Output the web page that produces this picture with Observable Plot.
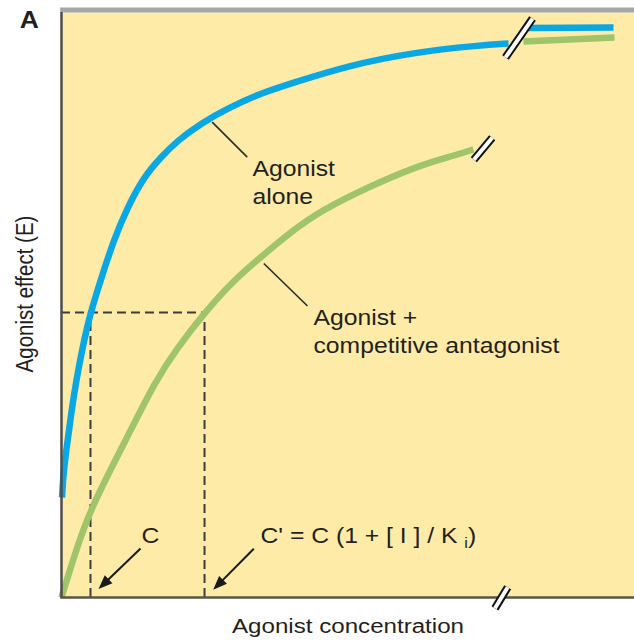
<!DOCTYPE html>
<html>
<head>
<meta charset="utf-8">
<script src="https://cdn.jsdelivr.net/npm/d3@7"></script>
<script src="https://cdn.jsdelivr.net/npm/@observablehq/plot@0.6"></script>
<style>html,body{margin:0;padding:0;background:#fff;}</style>
</head>
<body>
<div id="chart"></div>
<script>
// ---- Data (arbitrary concentration units 0–100, effect % of frame) ----
const blueConc   = [0.09, 0.35, 0.96, 1.66, 2.57, 3.75, 5.06, 6.81, 9.08, 11.52, 14.31, 17.28, 20.24, 24.26, 28.97, 34.73, 40.49, 49.91, 61.43, 73.12, 78.01];
const blueEffect = [17.1, 21.4, 26.0, 31.3, 37.1, 43.1, 48.7, 54.2, 61.0, 66.7, 71.8, 75.2, 78.1, 81.0, 83.6, 86.2, 88.0, 90.9, 93.2, 94.4, 94.7];
const blueConcHigh   = [81.33, 96.34];
const blueEffectHigh = [97.35, 97.44];

const greenConc   = [0, 2.44, 5.06, 11.17, 16.41, 20.24, 24.96, 30.02, 35.25, 41.71, 46.95, 55.67, 62.65, 67.37, 71.90];
const greenEffect = [0, 7.8, 15.2, 26.8, 37.1, 42.7, 48.7, 54.2, 58.6, 63.8, 67.0, 71.1, 73.9, 75.2, 76.6];
const greenConcHigh   = [80.63, 96.51];
const greenEffectHigh = [95.04, 95.73];

const concC = 5.06;       // C
const concCprime = 24.96; // C'
const effectLevel = 48.7; // matched effect

const breakMarks = [
  {x1: 77.49, y1: 92.31, x2: 82.20, y2: 98.97},
  {x1: 71.96, y1: 74.82, x2: 75.17, y2: 78.58},
  {x1: 75.65, y1: -1.85, x2: 77.87, y2: 1.76}
];
const leaders = [
  {x1: 26.30, y1: 81.25, x2: 32.41, y2: 75.27},
  {x1: 35.31, y1: 57.09, x2: 42.93, y2: 49.83}
];
const arrows = [
  {x1: 13.79, y1: 8.38, x2: 6.46, y2: 1.45},
  {x1: 33.56, y1: 8.32, x2: 26.47, y2: 1.32}
];
const curveLabels = [
  {x: 33.33, y: 67.35, text: "Agonist\nalone"},
  {x: 43.98, y: 41.88, text: "Agonist +\ncompetitive antagonist"},
  {x: 34.73, y: 9.40, text: "C' = C (1 + [ I ] / K i)"}
];
const centredLabels = [
  {x: 15.53, y: 9.40, text: "C"}
];
const xTitle = "Agonist concentration";
const yTitle = "Agonist effect (E)";
const panelLabel = "A";

// ---- Layout ----
const W = 634, H = 641, ML = 61, MR = 0, MT = 12, MB = 44;
const xDomain = [0, 100], yDomain = [0, 100];
const kx = (W - ML - MR) / (xDomain[1] - xDomain[0]);
const ky = (H - MT - MB) / (yDomain[1] - yDomain[0]);

const yellow = "#fdeba7", blue = "#09a7e4", green = "#9fc46a", ink = "#231f20";

const blueRows = blueConc.map((x, i) => ({x, y: blueEffect[i], seg: "a"}))
  .concat(blueConcHigh.map((x, i) => ({x, y: blueEffectHigh[i], seg: "b"})));
const greenRows = greenConc.map((x, i) => ({x, y: greenEffect[i], seg: "a"}))
  .concat(greenConcHigh.map((x, i) => ({x, y: greenEffectHigh[i], seg: "b"})));

// arrow shafts and heads
const shafts = [], heads = [];
for (const a of arrows) {
  const dxp = (a.x2 - a.x1) * kx, dyp = -(a.y2 - a.y1) * ky;
  const len = Math.hypot(dxp, dyp);
  const ux = dxp / len, uy = dyp / len;
  const back = 9;
  shafts.push({x1: a.x1, y1: a.y1, x2: a.x2 - ux * back / kx, y2: a.y2 + uy * back / ky});
  heads.push({x: a.x2, y: a.y2, angle: Math.atan2(dxp, -dyp) * 180 / Math.PI});
}
const headSymbol = {draw(ctx) { ctx.moveTo(0, 0); ctx.lineTo(-5.5, 14); ctx.lineTo(5.5, 14); ctx.closePath(); }};

const svg = Plot.plot({
  width: W, height: H,
  marginLeft: ML, marginRight: MR, marginTop: MT, marginBottom: MB,
  x: {domain: xDomain, axis: null},
  y: {domain: yDomain, axis: null},
  style: {fontFamily: "'Liberation Sans', Arial, Helvetica, sans-serif", fontSize: "21px", background: "#fff", overflow: "visible"},
  marks: [
    Plot.frame({fill: yellow, stroke: null}),
    Plot.ruleY([effectLevel], {x1: 0, x2: concCprime, stroke: "#3d3d3d", strokeWidth: 2, strokeDasharray: "9,5"}),
    Plot.ruleX([concC, concCprime], {y1: 0, y2: effectLevel, stroke: "#3d3d3d", strokeWidth: 2, strokeDasharray: "9,5"}),
    Plot.line(greenRows, {x: "x", y: "y", z: "seg", stroke: green, strokeWidth: 6.5, curve: "basis", strokeLinecap: "butt"}),
    Plot.line(blueRows, {x: "x", y: "y", z: "seg", stroke: blue, strokeWidth: 6.5, curve: "basis", strokeLinecap: "butt"}),
    Plot.ruleY([yDomain[1]], {x1: -0.15, x2: xDomain[1], stroke: "#a6a6a6", strokeWidth: 5, dy: -2.5}),
    Plot.ruleX([0], {y1: 0, y2: yDomain[1], stroke: "#4d4d4d", strokeWidth: 2.5}),
    Plot.ruleY([0], {x1: -0.15, x2: xDomain[1], stroke: "#5b5444", strokeWidth: 2.5}),
    Plot.link(breakMarks, {x1: "x1", y1: "y1", x2: "x2", y2: "y2", stroke: "#111", strokeWidth: 8, strokeLinecap: "butt"}),
    Plot.link(breakMarks, {x1: "x1", y1: "y1", x2: "x2", y2: "y2", stroke: "#fff", strokeWidth: 4, strokeLinecap: "butt"}),
    Plot.link(leaders, {x1: "x1", y1: "y1", x2: "x2", y2: "y2", stroke: "#2a2a2a", strokeWidth: 1.6}),
    Plot.link(shafts, {x1: "x1", y1: "y1", x2: "x2", y2: "y2", stroke: "#1a1a1a", strokeWidth: 2}),
    Plot.dot(heads, {x: "x", y: "y", symbol: headSymbol, rotate: "angle", fill: "#1a1a1a", stroke: null}),
    Plot.text(curveLabels, {x: "x", y: "y", text: "text", textAnchor: "start", lineAnchor: "bottom", lineHeight: 1.3, fontSize: 21.5, fill: ink}),
    Plot.text(centredLabels, {x: "x", y: "y", text: "text", textAnchor: "middle", lineAnchor: "bottom", fontSize: 21.5, fill: ink}),
    Plot.text([xTitle], {x: 50, y: -6.15, text: d => d, textAnchor: "middle", lineAnchor: "bottom", fontSize: 21, fill: ink}),
    Plot.text([yTitle], {x: -5.06, y: 51.88, text: d => d, rotate: -90, textAnchor: "middle", lineAnchor: "bottom", fontSize: 20.5, fill: ink}),
    Plot.text([panelLabel], {x: -7.3, y: 97.3, text: d => d, textAnchor: "start", lineAnchor: "bottom", fontSize: 23, fontWeight: "bold", fill: ink})
  ]
});
document.getElementById("chart").append(svg);

// The reference lettering is wider than plain Helvetica: stretch it horizontally.
svg.querySelectorAll("text").forEach(t => {
  if (t.textContent.includes("/ K")) {
    t.textContent = "C' = C (1 + [ I ] / K ";
    const ns = "http://www.w3.org/2000/svg";
    const sub = document.createElementNS(ns, "tspan");
    sub.setAttribute("font-size", "14");
    sub.setAttribute("dy", "5");
    sub.textContent = "i";
    const close = document.createElementNS(ns, "tspan");
    close.setAttribute("dy", "-5");
    close.textContent = ")";
    t.append(sub, close);
  }
  const tr = t.getAttribute("transform");
  if (tr) {
    t.setAttribute("transform", tr + (tr.includes("rotate") ? " scale(1,1.15)" : " scale(1.15,1)"));
  }
});
</script>
</body>
</html>
